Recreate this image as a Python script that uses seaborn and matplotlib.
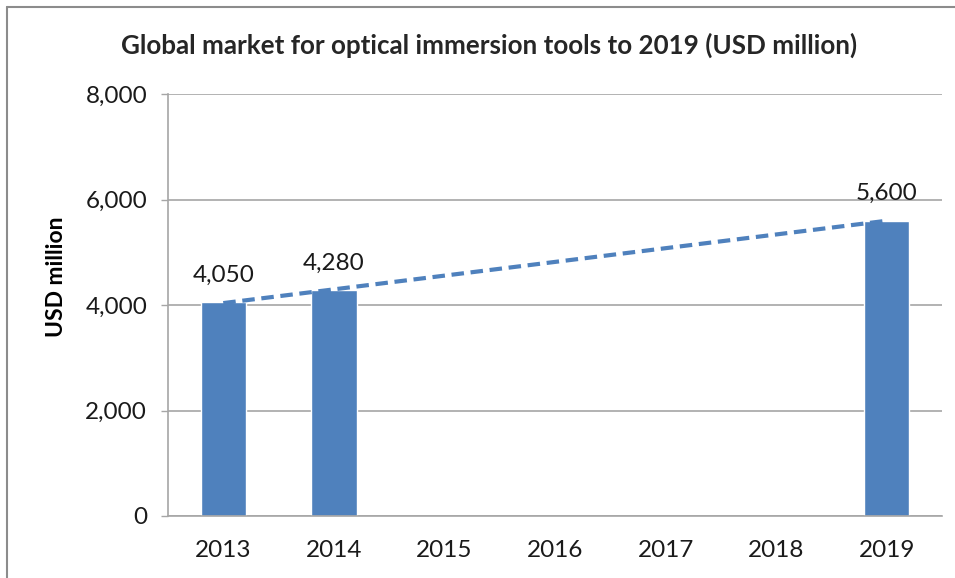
import seaborn as sns
import matplotlib.pyplot as plt
from matplotlib.lines import Line2D
from matplotlib.ticker import FuncFormatter

all_years = ["2013", "2014", "2015", "2016", "2017", "2018", "2019"]
years = ["2013", "2014", "2019"]
values = [4050, 4280, 5600]

bar_color = "#4F81BD"
grid_color = "#A6A6A6"

sns.set_theme(style="white")
plt.rcParams["font.family"] = ["Lato", "DejaVu Sans"]

fig = plt.figure(figsize=(9.55, 5.78), dpi=100)
ax = fig.add_axes([168 / 955, 1 - 516 / 578, (942 - 168) / 955, (516 - 94) / 578])

sns.barplot(x=years, y=values, order=all_years, color=bar_color, saturation=1,
            width=0.41, ax=ax)

# linear trendline over the years that have data
pos = [all_years.index(y) for y in years]
sns.regplot(x=pos, y=values, ci=None, scatter=False, ax=ax,
            line_kws={"color": bar_color, "ls": (0, (3, 1.6)), "lw": 3})

ax.bar_label(ax.containers[0], labels=[f"{v:,}" for v in values], padding=12,
             fontsize=17.5, color="#1a1a1a")

ax.set_ylim(0, 8000)
ax.set_xlim(-0.5, 6.5)
ax.set_yticks([0, 2000, 4000, 6000, 8000])
ax.yaxis.set_major_formatter(FuncFormatter(lambda v, p: f"{int(v):,}"))
ax.yaxis.grid(True, color=grid_color, lw=1.2)
ax.set_axisbelow(True)
for s in ["top", "right"]:
    ax.spines[s].set_visible(False)
for s in ["left", "bottom"]:
    ax.spines[s].set_color(grid_color)
    ax.spines[s].set_linewidth(1.2)
ax.tick_params(axis="y", left=True, length=5, width=1, color=grid_color,
               labelsize=17.5, labelcolor="#1a1a1a", pad=10)
ax.tick_params(axis="x", bottom=False, labelsize=17.5, labelcolor="#1a1a1a", pad=11)
ax.set_xlabel("")
ax.set_ylabel("USD million", fontsize=16.5, fontweight="bold", color="#000000")
ax.yaxis.set_label_coords(-0.130, 0.566)

fig.suptitle("Global market for optical immersion tools to 2019 (USD million)",
             x=489 / 955, y=1 - 45 / 578, va="center", fontsize=18.7,
             fontweight="bold")

# outer chart frame
fig.add_artist(Line2D([7 / 955, 1], [1 - 7 / 578] * 2, color="#8C8C8C", lw=1.5))
fig.add_artist(Line2D([7 / 955] * 2, [0, 1 - 7 / 578], color="#8C8C8C", lw=1.5))

fig.savefig("out.png", dpi=100)
